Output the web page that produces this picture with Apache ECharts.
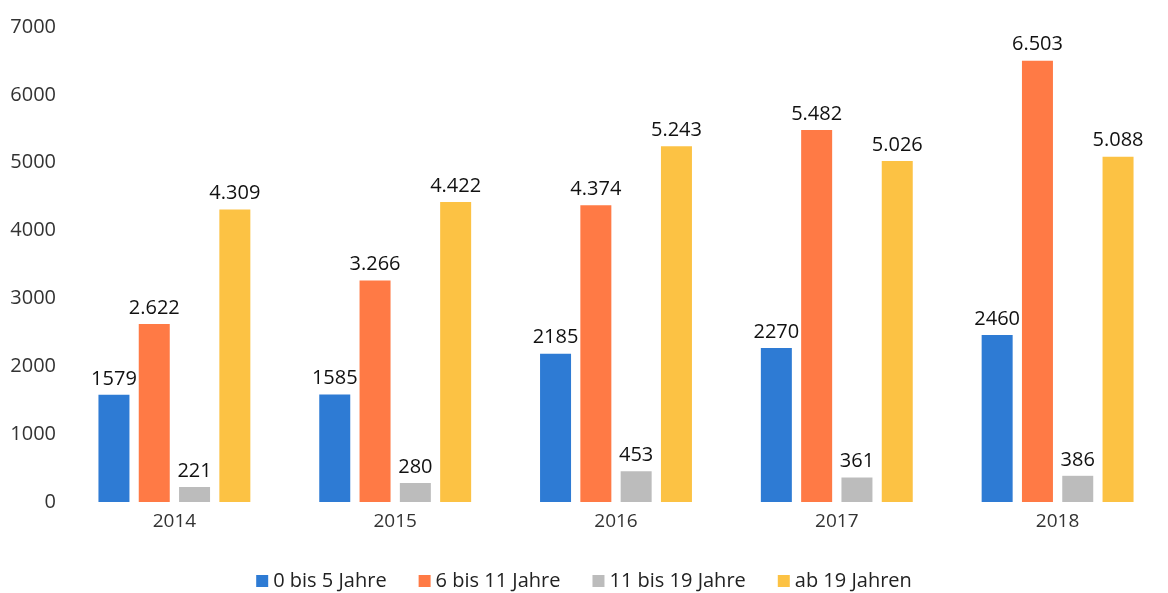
<!DOCTYPE html>
<html>
<head>
<meta charset="utf-8">
<script src="https://cdn.jsdelivr.net/npm/echarts@6/dist/echarts.min.js"></script>
<style>
    html, body {margin: 0; padding: 0; background: #fff;}
    #chart {width: 1168px; height: 593px;}
</style>
</head>
<body>
<div id="chart"></div>
<script>
var years = ['2014', '2015', '2016', '2017', '2018'];
var names = ['0 bis 5 Jahre', '6 bis 11 Jahre', '11 bis 19 Jahre', 'ab 19 Jahren'];
var colors = ['#2e7bd4', '#ff7a45', '#bcbcbc', '#fcc244'];
var age0to5 = [1579, 1585, 2185, 2270, 2460];
var age6to11 = [2622, 3266, 4374, 5482, 6503];
var age11to19 = [221, 280, 453, 361, 386];
var age19plus = [4309, 4422, 5243, 5026, 5088];
// orange and yellow labels are printed with a German thousands dot
var dotted = [false, true, false, true];
var yTicks = [0, 1000, 2000, 3000, 4000, 5000, 6000, 7000];

function draw_bars() {
    var myChart = echarts.init(document.getElementById('chart'));
    var all = [age0to5, age6to11, age11to19, age19plus];

    var series = all.map(function (vals, i) {
        return {
            name: names[i],
            type: 'bar',
            data: vals,
            barWidth: 31,
            barGap: '30%',
            itemStyle: {color: colors[i]},
            label: {
                show: true,
                position: 'top',
                distance: 6,
                fontSize: 20,
                fontFamily: 'Open Sans',
                color: '#111',
                formatter: function (p) {
                    var s = String(p.value);
                    if (dotted[i] && s.length > 3) {
                        s = s.slice(0, s.length - 3) + '.' + s.slice(s.length - 3);
                    }
                    return s;
                }
            }
        };
    });

    option = {
        animation: false,
        grid: {left: 64, top: 27, width: 1121, height: 475, containLabel: false},
        legend: {
            data: names,
            top: 566,
            left: 'center',
            icon: 'rect',
            itemWidth: 12,
            itemHeight: 12,
            itemGap: 32,
            textStyle: {fontSize: 20, fontFamily: 'Open Sans', color: '#222'}
        },
        xAxis: {
            type: 'category',
            data: years,
            axisLine: {show: false},
            axisTick: {show: false},
            axisLabel: {fontSize: 19, fontFamily: 'Open Sans', color: '#333', margin: 10}
        },
        yAxis: {
            type: 'value',
            min: yTicks[0],
            max: yTicks[yTicks.length - 1],
            interval: 1000,
            splitLine: {show: false},
            axisLine: {show: false},
            axisTick: {show: false},
            axisLabel: {
                fontSize: 20, fontFamily: 'Open Sans', color: '#333', margin: 8,
                formatter: function (v) { return String(v); }
            }
        },
        series: series
    };

    myChart.setOption(option);
}

draw_bars();
</script>
</body>
</html>
